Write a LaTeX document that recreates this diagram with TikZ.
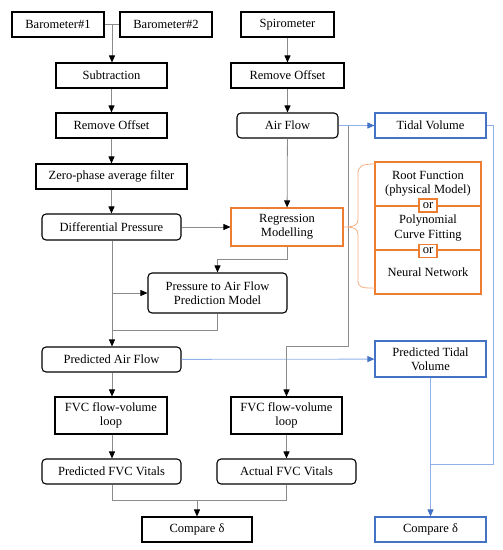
\documentclass[tikz,border=0pt]{standalone}
\usepackage{fontspec}
\setmainfont{Liberation Serif}
\usetikzlibrary{arrows.meta}
\definecolor{conngray}{HTML}{8C8C8C}
\definecolor{boxblue}{HTML}{4472C4}
\definecolor{lineblue}{HTML}{8FB0E8}
\definecolor{boxorange}{HTML}{ED7D31}
\definecolor{braceorange}{HTML}{F4B183}
\tikzset{
  base/.style={draw=black, line width=1.1pt, align=center, inner sep=1pt,
    font=\fontsize{12.5}{14.3}\selectfont, minimum height=25pt},
  sq/.style={base},
  rd/.style={base, rounded corners=4pt},
  bl/.style={base, draw=boxblue},
  orb/.style={base, draw=boxorange},
  orsmall/.style={draw=boxorange, line width=1.1pt, fill=white, inner sep=0pt,
    minimum width=18pt, minimum height=13pt, font=\fontsize{12.5}{13}\selectfont},
  conn/.style={draw=conngray, line width=0.8pt},
  arr/.style={conn, -{Triangle[length=7pt,width=6pt,color=black]}},
  bconn/.style={draw=lineblue, line width=0.8pt},
  barr/.style={bconn, -{Triangle[length=7pt,width=6pt,color=boxblue]}},
}
\begin{document}
\begin{tikzpicture}[x=1pt,y=-1pt]
\useasboundingbox (0,0) rectangle (503,550);
% nodes
\node[sq, minimum width=92pt] (b1) at (58,24.5) {Barometer\#1};
\node[sq, minimum width=92pt] (b2) at (166,24.5) {Barometer\#2};
\node[sq, minimum width=93pt] (spiro) at (287.5,24.5) {Spirometer};
\node[sq, minimum width=111pt] (sub) at (111.5,75.5) {Subtraction};
\node[sq, minimum width=111pt] (ro1) at (111.5,125.5) {Remove Offset};
\node[sq, minimum width=113pt] (ro2) at (287.5,75.5) {Remove Offset};
\node[sq, minimum width=151pt] (zp) at (111.5,176.5) {Zero-phase average filter};
\node[rd, minimum width=101pt] (af) at (287.5,125.5) {Air Flow};
\node[bl, minimum width=111pt] (tv) at (430.5,125.5) {Tidal Volume};
\node[rd, minimum width=139pt, minimum height=26pt] (dp) at (111.5,227) {Differential Pressure};
\node[orb, minimum width=112pt, minimum height=38pt] (reg) at (287,227) {Regression\\Modelling};
\node[orb, minimum width=106pt, minimum height=44pt] (rf) at (428,184) {Root Function\\(physical Model)};
\node[orb, minimum width=106pt, minimum height=44pt] (pol) at (428,228) {Polynomial\\Curve Fitting};
\node[orb, minimum width=106pt, minimum height=44pt] (nn) at (428,272) {Neural Network};
\node[orsmall] (or1) at (428,205.5) {or};
\node[orsmall] (or2) at (428,251) {or};
\node[rd, minimum width=139pt, minimum height=40pt] (ptaf) at (217.5,293) {Pressure to Air Flow\\Prediction Model};
\node[rd, minimum width=139pt] (paf) at (111.5,359.5) {Predicted Air Flow};
\node[bl, minimum width=111pt, minimum height=36pt] (ptv) at (430.5,359) {Predicted Tidal\\Volume};
\node[sq, minimum width=112pt, minimum height=37pt] (fvc1) at (111,415.5) {FVC flow-volume\\loop};
\node[sq, minimum width=111pt, minimum height=37pt] (fvc2) at (286.5,415.5) {FVC flow-volume\\loop};
\node[rd, minimum width=139pt] (pfv) at (111.5,471.5) {Predicted FVC Vitals};
\node[rd, minimum width=139pt] (afv) at (286.5,471.5) {Actual FVC Vitals};
\node[sq, minimum width=110pt] (c1) at (197,529.5) {Compare δ};
\node[bl, minimum width=111pt] (c2) at (430.5,529.5) {Compare δ};
% coordinates
\coordinate (j) at (112,24.5);
\coordinate (m1) at (112,293);
\coordinate (m2) at (112,330);
\coordinate (r1) at (348,125.5);
\coordinate (r2) at (348,346);
\coordinate (cm) at (197,500);
\coordinate (tvr) at (493,125.5);
\coordinate (tvb) at (430.5,464);
% connectors
\draw[conn] (b1.east) -- (b2.west);
\draw[arr] (j) -- (j |- sub.north);
\draw[arr] (sub) -- (ro1);
\draw[arr] (ro1) -- (zp);
\draw[arr] (zp) -- (zp |- dp.north);
\draw[arr] (spiro) -- (ro2);
\draw[arr] (ro2) -- (af);
\draw[barr] (af) -- (tv);
\draw[arr] (af) -- (reg);
\draw[arr] (dp) -- (reg);
\draw[arr] (reg.south) -- ++(0,13) -| (ptaf.north);
\draw[arr] (dp.south -| j) -- (paf.north -| j);
\draw[arr] (m1) -- (ptaf.west);
\draw[conn] (ptaf.south) |- (m2);
\draw[arr] (paf.south -| j) -- (fvc1.north -| j);
\draw[arr] (fvc1.south -| j) -- (pfv.north -| j);
\draw[barr] (paf) -- (ptv);
\draw[arr] (r1) -- (r2) -| (fvc2.north);
\draw[arr] (fvc2) -- (afv);
\draw[conn] (pfv.south -| j) |- (cm);
\draw[conn] (afv.south) |- (cm);
\draw[arr] (cm) -- (c1.north);
\draw[bconn] (tv.east) -- (tvr) |- (tvb);
\draw[barr] (ptv) -- (c2);
% brace
\draw[draw=braceorange, line width=0.8pt] (375,164)
  .. controls (362,164) and (358,166) .. (358,174) -- (358,219)
  .. controls (358,225) and (355,227) .. (reg.east)
  .. controls (355,227) and (358,229) .. (358,235) -- (358,280)
  .. controls (358,288) and (362,288) .. (375,288);
\end{tikzpicture}
\end{document}
